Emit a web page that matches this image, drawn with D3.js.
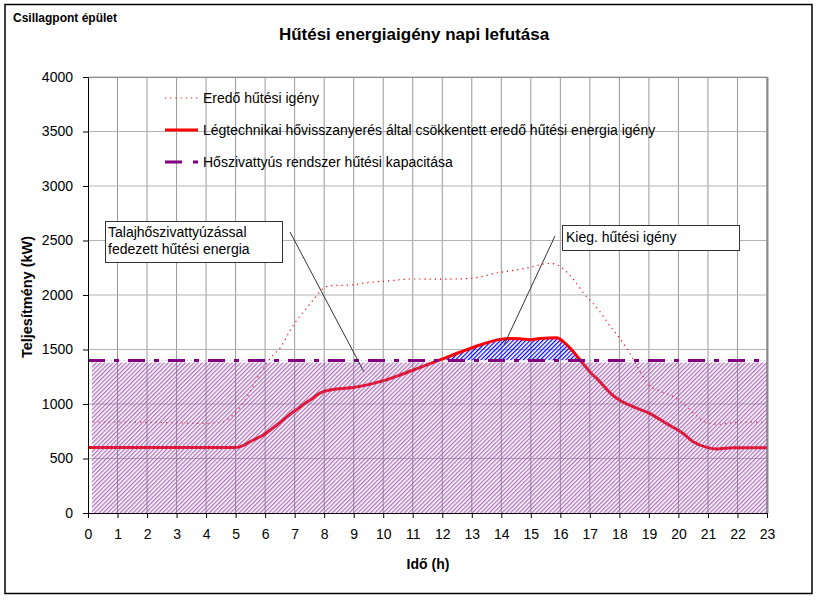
<!DOCTYPE html>
<html>
<head>
<meta charset="utf-8">
<script src="https://cdn.jsdelivr.net/npm/d3@7"></script>
<style>
  body { margin: 0; background: #fff; }
  svg { display: block; font-family: "Liberation Sans", Arial, sans-serif; }
</style>
</head>
<body>
<svg id="chart" width="821" height="600"></svg>
<script>
// ---- Data ----
const xTicks = d3.range(0, 24);            // 0..23 h
const yTicks = d3.range(0, 4001, 500);     // 0..4000 kW

// "Eredő hűtési igény" (total cooling demand)
const demandX = [0, 1, 2, 3, 3.8, 4.5, 4.7, 5.0, 5.3, 5.55, 5.83, 6.27, 6.5, 6.84, 7.0, 7.35, 7.63, 7.97, 8.2, 8.93, 9.44, 10.12, 11, 12, 12.94, 13.96, 14.63, 14.97, 15.65, 16.0, 16.2, 16.5, 16.84, 17.1, 17.34, 17.68, 18.02, 18.35, 18.7, 18.98, 19.38, 19.83, 20.28, 20.62, 21.01, 21.4, 21.97, 23];
const demandY = [835, 835, 832, 828, 822, 830, 853, 925, 1025, 1144, 1281, 1450, 1511, 1670, 1740, 1862, 1954, 2061, 2085, 2092, 2113, 2128, 2147, 2145, 2153, 2208, 2235, 2254, 2290, 2260, 2214, 2122, 2000, 1924, 1847, 1716, 1600, 1465, 1297, 1180, 1119, 1067, 975, 890, 823, 814, 832, 835];

// "Légtechnikai hővisszanyerés által csökkentett eredő hűtési energia igény"
const reducedX = [0, 1, 2, 3, 4, 5, 5.15, 5.6, 5.94, 6.39, 6.96, 7.52, 7.97, 8.2, 8.42, 8.99, 9.9, 10.57, 11.25, 11.92, 12.6, 13.28, 13.96, 14.3, 14.63, 15.0, 15.31, 15.88, 16.1, 16.44, 16.67, 17.1, 17.23, 17.7, 18.0, 18.46, 19.02, 19.58, 20.15, 20.5, 20.96, 21.3, 21.86, 23];
const reducedY = [600, 600, 600, 600, 600, 600, 608, 670, 716, 807, 929, 1037, 1113, 1128, 1138, 1152, 1205, 1266, 1336, 1404, 1475, 1541, 1593, 1600, 1598, 1590, 1602, 1608, 1572, 1480, 1404, 1266, 1235, 1098, 1037, 975, 914, 823, 731, 654, 602, 587, 599, 598];

// "Hőszivattyús rendszer hűtési kapacitása" (heat pump capacity)
const capacityX = [0, 23];
const capacityY = [1400, 1400];

// Area covered by ground source heat pump
const coveredX = [0.13, 23];
const coveredY = [1380, 1380];

const seriesNames = [
  "Eredő hűtési igény",
  "Légtechnikai hővisszanyerés által csökkentett eredő hűtési energia igény",
  "Hőszivattyús rendszer hűtési kapacitása"
];
const noteGround = ["Talajhőszivattyúzással", "fedezett hűtési energia"];
const noteExtra = ["Kieg. hűtési igény"];

// ---- Layout ----
const svg = d3.select("#chart");
const L = 88, R = 767, T = 77, B = 513;
const x = d3.scaleLinear().domain([0, 23]).range([L, R]);
const y = d3.scaleLinear().domain([0, 4000]).range([B, T]);

const defs = svg.append("defs");
defs.append("pattern").attr("id", "hatchPurple").attr("patternUnits", "userSpaceOnUse")
  .attr("width", 3).attr("height", 3).attr("patternTransform", "rotate(45)")
  .append("rect").attr("width", 1.35).attr("height", 3).attr("fill", "#9a4cad").attr("opacity", 0.78);
defs.append("pattern").attr("id", "hatchBlue").attr("patternUnits", "userSpaceOnUse")
  .attr("width", 3).attr("height", 3).attr("patternTransform", "rotate(45)")
  .append("rect").attr("width", 1.2).attr("height", 3).attr("fill", "#0000ff");
defs.append("clipPath").attr("id", "aboveCap")
  .append("rect").attr("x", L).attr("y", T).attr("width", R - L).attr("height", y(1400) - T);

// outer border
svg.append("rect").attr("x", 5).attr("y", 4.5).attr("width", 807).attr("height", 589)
  .attr("fill", "#fff").attr("stroke", "#000").attr("stroke-width", 1.5);

// texts top
svg.append("text").attr("x", 13).attr("y", 22).attr("font-size", 12).attr("font-weight", "bold")
  .text("Csillagpont épület");
svg.append("text").attr("x", 414).attr("y", 40).attr("text-anchor", "middle")
  .attr("font-size", 17).attr("font-weight", "bold").text("Hűtési energiaigény napi lefutása");

// gridlines
const grid = svg.append("g");
grid.selectAll("line.v").data(xTicks.slice(1)).join("line")
  .attr("x1", d => x(d)).attr("x2", d => x(d)).attr("y1", T).attr("y2", B)
  .attr("stroke", "#999").attr("stroke-width", 1);
grid.selectAll("line.h").data(yTicks.slice(1)).join("line")
  .attr("x1", L).attr("x2", R).attr("y1", d => y(d)).attr("y2", d => y(d))
  .attr("stroke", "#b4b4b4").attr("stroke-width", 1);
// plot frame (top/right gray)
svg.append("line").attr("x1", L).attr("x2", R).attr("y1", T + 0.5).attr("y2", T + 0.5).attr("stroke", "#888");
svg.append("line").attr("x1", R + 0.5).attr("x2", R + 0.5).attr("y1", T).attr("y2", B).attr("stroke", "#888").attr("stroke-width", 2);

const reduced = reducedX.map((d, i) => [d, reducedY[i]]);
const demand = demandX.map((d, i) => [d, demandY[i]]);

// blue area (extra demand above capacity)
svg.append("path").datum(reduced)
  .attr("clip-path", "url(#aboveCap)")
  .attr("d", d3.area().curve(d3.curveMonotoneX).x(d => x(d[0])).y0(y(1400)).y1(d => y(d[1])))
  .attr("fill", "url(#hatchBlue)");

// dotted demand line
svg.append("path").datum(demand)
  .attr("d", d3.line().curve(d3.curveMonotoneX).x(d => x(d[0])).y(d => y(d[1])))
  .attr("fill", "none").attr("stroke", "#ff0000").attr("stroke-width", 1.2).attr("stroke-dasharray", "1.2,4");

// thick reduced line
svg.append("path").datum(reduced)
  .attr("d", d3.line().curve(d3.curveMonotoneX).x(d => x(d[0])).y(d => y(d[1])))
  .attr("fill", "none").attr("stroke", "#ff0000").attr("stroke-width", 3);

// purple hatched area on top
svg.append("path").datum(coveredX.map((d, i) => [d, coveredY[i]]))
  .attr("d", d3.area().x(d => x(d[0])).y0(y(0)).y1(d => y(d[1])))
  .attr("fill", "url(#hatchPurple)");

// capacity dash-dot line
svg.append("path").datum(capacityX.map((d, i) => [d, capacityY[i]]))
  .attr("d", d3.line().x(d => x(d[0])).y(d => y(d[1])))
  .attr("fill", "none").attr("stroke", "#800080").attr("stroke-width", 3).attr("stroke-dasharray", "17,9,5,9");

// axes
const yAxis = svg.append("g").attr("transform", `translate(${L},0)`)
  .call(d3.axisLeft(y).tickValues(yTicks).tickFormat(d3.format("d")).tickSize(5).tickSizeOuter(0).tickPadding(10));
const xAxis = svg.append("g").attr("transform", `translate(0,${B})`)
  .call(d3.axisBottom(x).tickValues(xTicks).tickFormat(d3.format("d")).tickSize(5).tickSizeOuter(0).tickPadding(11));
[yAxis, xAxis].forEach(a => {
  a.select(".domain").attr("stroke", "#000").attr("stroke-width", 1);
  a.selectAll(".tick line").attr("stroke", "#000");
  a.selectAll("text").attr("font-size", 14).attr("font-family", "Liberation Sans, Arial, sans-serif").attr("fill", "#000");
});

// axis titles
svg.append("text").attr("transform", "translate(32,297) rotate(-90)").attr("text-anchor", "middle")
  .attr("font-size", 14.5).attr("font-weight", "bold").text("Teljesítmény (kW)");
svg.append("text").attr("x", 428).attr("y", 569).attr("text-anchor", "middle")
  .attr("font-size", 14).attr("font-weight", "bold").text("Idő (h)");

// legend
const leg = svg.append("g");
const legY = [98, 130, 162];
leg.append("line").attr("x1", 165).attr("x2", 198).attr("y1", legY[0]).attr("y2", legY[0])
  .attr("stroke", "#ff0000").attr("stroke-width", 1.2).attr("stroke-dasharray", "1.2,4");
leg.append("line").attr("x1", 165).attr("x2", 198).attr("y1", legY[1]).attr("y2", legY[1])
  .attr("stroke", "#ff0000").attr("stroke-width", 3);
leg.append("line").attr("x1", 165).attr("x2", 198).attr("y1", legY[2]).attr("y2", legY[2])
  .attr("stroke", "#800080").attr("stroke-width", 3).attr("stroke-dasharray", "17,11,5,20");
seriesNames.forEach((s, i) => {
  leg.append("text").attr("x", 203).attr("y", legY[i] + 5).attr("font-size", 14).text(s);
});

// annotations
svg.append("line").attr("x1", 290).attr("y1", 232).attr("x2", 364).attr("y2", 372).attr("stroke", "#333").attr("stroke-width", 1);
svg.append("line").attr("x1", 555).attr("y1", 236).attr("x2", 504).attr("y2", 345).attr("stroke", "#333").attr("stroke-width", 1);

svg.append("rect").attr("x", 105.5).attr("y", 221.5).attr("width", 177).attr("height", 41)
  .attr("fill", "#fff").attr("stroke", "#333").attr("stroke-width", 1);
noteGround.forEach((t, i) => svg.append("text").attr("x", 108).attr("y", 237 + i * 17).attr("font-size", 14).text(t));
svg.append("rect").attr("x", 562.5).attr("y", 225.5).attr("width", 177).attr("height", 25)
  .attr("fill", "#fff").attr("stroke", "#333").attr("stroke-width", 1);
noteExtra.forEach((t, i) => svg.append("text").attr("x", 566).attr("y", 242 + i * 17).attr("font-size", 14).text(t));
</script>
</body>
</html>
